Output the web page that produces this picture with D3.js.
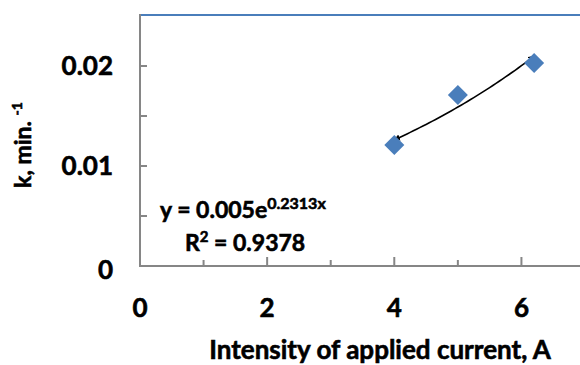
<!DOCTYPE html>
<html>
<head>
<meta charset="utf-8">
<script src="https://cdn.jsdelivr.net/npm/d3@7"></script>
<style>
  body { margin: 0; background: #fff; }
  text { font-family: Lato, "Open Sans", sans-serif; font-weight: bold; fill: #000; stroke: #000; stroke-width: 0.6px; }
</style>
</head>
<body>
<svg id="chart" width="580" height="365"></svg>
<script>
// measured points
const currents = [4, 5, 6.2];
const rateK = [0.0121, 0.0171, 0.0203];

// exponential fit shown on the chart
const fitA = 0.005;
const fitB = 0.2313;
const fitR2 = 0.9378;

const xTicks = [0, 2, 4, 6];
const xMinor = [1, 3, 5];
const yTicks = [0, 0.01, 0.02];
const yMinor = [0.005, 0.015];

const svg = d3.select("#chart");
const axisGray = "#868686";
const blue = "#4a7ebb";

const x = d3.scaleLinear().domain([0, 7]).range([140, 585]);
const y = d3.scaleLinear().domain([0, 0.025]).range([266, 16]);

// top border of plot area
svg.append("line")
    .attr("x1", x(0)).attr("x2", 580)
    .attr("y1", y(0.025) - 1).attr("y2", y(0.025) - 1)
    .attr("stroke", blue).attr("stroke-width", 2);

// axes lines
svg.append("line")
    .attr("x1", x(0)).attr("x2", x(0))
    .attr("y1", y(0.025) - 2).attr("y2", y(0) + 1)
    .attr("stroke", axisGray).attr("stroke-width", 2);
svg.append("line")
    .attr("x1", x(0) - 1).attr("x2", 580)
    .attr("y1", y(0)).attr("y2", y(0))
    .attr("stroke", axisGray).attr("stroke-width", 2);

// y ticks (inside)
svg.selectAll(".ytick")
    .data(yTicks.concat(yMinor).filter(d => d > 0))
    .enter().append("line")
    .attr("x1", x(0)).attr("x2", x(0) + 7)
    .attr("y1", d => y(d)).attr("y2", d => y(d))
    .attr("stroke", axisGray).attr("stroke-width", 2);

// x ticks (inside)
svg.selectAll(".xtick")
    .data(xTicks.filter(d => d > 0))
    .enter().append("line")
    .attr("x1", d => x(d)).attr("x2", d => x(d))
    .attr("y1", y(0)).attr("y2", y(0) - 9)
    .attr("stroke", axisGray).attr("stroke-width", 2);
svg.selectAll(".xminor")
    .data(xMinor)
    .enter().append("line")
    .attr("x1", d => x(d)).attr("x2", d => x(d))
    .attr("y1", y(0)).attr("y2", y(0) - 6)
    .attr("stroke", axisGray).attr("stroke-width", 2);

// tick labels
svg.selectAll(".ylab")
    .data(yTicks)
    .enter().append("text")
    .attr("x", 113)
    .attr("y", d => y(d))
    .attr("dy", d => d === 0 ? "0.5em" : "0.36em")
    .attr("text-anchor", "end")
    .style("font-size", "26px")
    .text(d => d === 0 ? "0" : d3.format(".2f")(d));

svg.selectAll(".xlab")
    .data(xTicks)
    .enter().append("text")
    .attr("x", d => x(d))
    .attr("y", 317)
    .attr("text-anchor", "middle")
    .style("font-size", "26px")
    .text(d => d);

// axis titles
svg.append("text")
    .attr("x", 380).attr("y", 359)
    .attr("text-anchor", "middle")
    .style("font-size", "26px")
    .text("Intensity of applied current, A");

const yt = svg.append("text")
    .attr("transform", "translate(31,145) rotate(-90)")
    .attr("text-anchor", "middle")
    .style("font-size", "23px");
yt.append("tspan").text("k, min. ");
yt.append("tspan").attr("dy", -9).style("font-size", "14px").text("-1");

// trendline
svg.append("defs").append("marker")
    .attr("id", "arr")
    .attr("viewBox", "0 0 10 10")
    .attr("refX", 9).attr("refY", 5)
    .attr("markerWidth", 4).attr("markerHeight", 4)
    .attr("orient", "auto-start-reverse")
    .append("path")
    .attr("d", "M0,0L10,5L0,10z")
    .attr("fill", "#000");

const fitPts = d3.range(currents[0], currents[2] + 0.001, 0.05)
    .map(v => [v, fitA * Math.exp(fitB * v)]);
svg.append("path")
    .datum(fitPts)
    .attr("d", d3.line().x(d => x(d[0])).y(d => y(d[1])))
    .attr("fill", "none")
    .attr("stroke", "#000")
    .attr("stroke-width", 1.6)
    .attr("marker-start", "url(#arr)")
    .attr("marker-end", "url(#arr)");

// diamonds
svg.selectAll(".pt")
    .data(currents.map((c, i) => [c, rateK[i]]))
    .enter().append("path")
    .attr("d", d3.symbol(d3.symbolSquare, 200))
    .attr("transform", d => `translate(${x(d[0])},${y(d[1])}) rotate(45)`)
    .attr("fill", blue);

// equation
const eq = svg.append("text")
    .attr("x", 160).attr("y", 218)
    .style("font-size", "23px");
eq.append("tspan").text("y = " + fitA + "e");
eq.append("tspan").attr("dy", -9).style("font-size", "16px").text(fitB + "x");

const r2 = svg.append("text")
    .attr("x", 185).attr("y", 251)
    .style("font-size", "23px");
r2.append("tspan").text("R");
r2.append("tspan").attr("dy", -9).style("font-size", "15px").text("2");
r2.append("tspan").attr("dy", 9).text(" = " + fitR2);
</script>
</body>
</html>
